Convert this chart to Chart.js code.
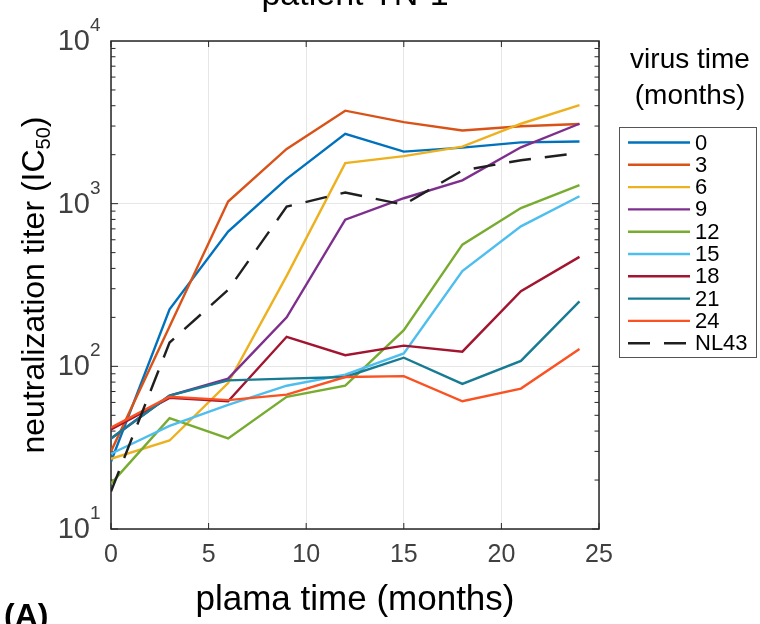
<!DOCTYPE html>
<html>
<head>
  <meta charset="utf-8">
  <title>patient TN-1</title>
  <script src="https://cdn.jsdelivr.net/npm/chart.js@4.4.0/dist/chart.umd.min.js"></script>
  <style>
    html, body {
      margin: 0;
      padding: 0;
      background: #fff;
    }
    #wrap {
      width: 760px;
      height: 624px;
      position: relative;
    }
  </style>
</head>
<body>
  <div id="wrap">
    <canvas id="titer" width="760" height="624"></canvas>
  </div>
  <script>
    // plasma sampling times (months)
    const plasmaMonths = [0, 3, 6, 9, 12, 15, 18, 21, 24];

    // IC50 titers, one row per virus time point
    const virus0  = [26, 224, 673, 1420, 2690, 2090, 2210, 2380, 2410];
    const virus3  = [30, 176, 1030, 2170, 3730, 3170, 2820, 2990, 3090];
    const virus6  = [27, 35, 79, 360, 1775, 1960, 2240, 3100, 4040];
    const virus9  = [36, 66, 84, 200, 797, 1080, 1390, 2220, 3100];
    const virus12 = [19, 48, 36, 65, 76, 167, 560, 940, 1300];
    const virus15 = [29, 43, 58, 76, 89, 120, 385, 725, 1110];
    const virus18 = [41, 64, 61, 152, 117, 134, 123, 290, 471];
    const virus21 = [36, 66, 82, 84, 86, 113, 78, 108, 251];
    const virus24 = [42, 65, 62, 67, 86, 87, 61, 73, 128];
    const nl43    = [17, 140, 295, 960, 1170, 986, 1600, 1850, 2050];

    const seriesNames  = ['0', '3', '6', '9', '12', '15', '18', '21', '24', 'NL43'];
    const seriesValues = [virus0, virus3, virus6, virus9, virus12, virus15, virus18, virus21, virus24, nl43];
    const seriesColors = ['#0072BD', '#D95319', '#EDB120', '#7E2F8E', '#77AC30',
                          '#4DBEEE', '#A2142F', '#177B93', '#FA5222', '#1f1f1f'];

    const xTicks = [0, 5, 10, 15, 20, 25];
    const yTicks = [10, 100, 1000, 10000];

    const FONT = '"Liberation Sans", Arial, Helvetica, sans-serif';
    const AXIS_COLOR = '#262626';
    const TICK_TEXT = '#404040';

    const datasets = seriesValues.map((vals, i) => ({
      label: seriesNames[i],
      data: vals.map((v, k) => ({ x: plasmaMonths[k], y: v })),
      borderColor: seriesColors[i],
      borderWidth: 2.4,
      borderDash: seriesNames[i] === 'NL43' ? [22, 14] : [],
      pointRadius: 0,
      fill: false,
      tension: 0,
      // later series sit on top
      order: seriesValues.length - i
    }));

    function seg(ctx, x1, y1, x2, y2) {
      ctx.beginPath();
      ctx.moveTo(x1, y1);
      ctx.lineTo(x2, y2);
      ctx.stroke();
    }

    // box, inward ticks and all the text around the axes
    const decorations = {
      id: 'decorations',
      beforeDatasetsDraw(chart) {
        const { ctx, chartArea: a, scales: { x, y } } = chart;
        ctx.save();
        ctx.strokeStyle = AXIS_COLOR;
        ctx.lineWidth = 1;
        xTicks.forEach(v => {
          const px = x.getPixelForValue(v);
          seg(ctx, px, a.bottom, px, a.bottom - 6);
          seg(ctx, px, a.top, px, a.top + 6);
        });
        for (let dec = 10; dec < 10000; dec *= 10) {
          for (let m = 1; m <= 9; m++) {
            const py = y.getPixelForValue(m * dec);
            const len = m === 1 ? 7 : 4.5;
            seg(ctx, a.left, py, a.left + len, py);
            seg(ctx, a.right, py, a.right - len, py);
          }
        }
        ctx.lineWidth = 1.5;
        ctx.strokeRect(a.left, a.top, a.right - a.left, a.bottom - a.top);
        ctx.restore();
      },
      afterDraw(chart) {
        const { ctx, chartArea: a, scales: { x, y } } = chart;
        const midX = (a.left + a.right) / 2;
        const midY = (a.top + a.bottom) / 2;
        ctx.save();

        // x tick labels
        ctx.fillStyle = TICK_TEXT;
        ctx.font = '25px ' + FONT;
        ctx.textAlign = 'center';
        ctx.textBaseline = 'alphabetic';
        xTicks.forEach(v => ctx.fillText(String(v), x.getPixelForValue(v), a.bottom + 33));

        // y tick labels as powers of ten
        yTicks.forEach(v => {
          const py = y.getPixelForValue(v);
          ctx.font = '29px ' + FONT;
          ctx.textAlign = 'right';
          ctx.textBaseline = 'middle';
          ctx.fillText('10', a.left - 21, py + 1);
          ctx.font = '19px ' + FONT;
          ctx.textAlign = 'left';
          ctx.textBaseline = 'alphabetic';
          ctx.fillText(String(Math.round(Math.log10(v))), a.left - 21, py - 10);
        });

        // titles
        ctx.fillStyle = '#000';
        ctx.textAlign = 'center';
        ctx.textBaseline = 'alphabetic';
        ctx.font = '34px ' + FONT;
        ctx.fillText('patient TN-1', midX, 5);
        ctx.font = '35px ' + FONT;
        ctx.fillText('plama time (months)', midX, 610);

        // y title with subscript
        ctx.save();
        ctx.translate(44, midY);
        ctx.rotate(-Math.PI / 2);
        const big = '32px ' + FONT, small = '20px ' + FONT;
        ctx.font = big;
        const part1 = 'neutralization titer (IC';
        const w1 = ctx.measureText(part1).width;
        const w3 = ctx.measureText(')').width;
        ctx.font = small;
        const w2 = ctx.measureText('50').width;
        let sx = -(w1 + w2 + w3) / 2;
        ctx.textAlign = 'left';
        ctx.font = big;
        ctx.fillText(part1, sx, 0);
        ctx.font = small;
        ctx.fillText('50', sx + w1, 6);
        ctx.font = big;
        ctx.fillText(')', sx + w1 + w2, 0);
        ctx.restore();

        // panel tag
        ctx.font = 'bold 32px ' + FONT;
        ctx.textAlign = 'left';
        ctx.fillText('(A)', 4, 626);

        // legend
        ctx.font = '28px ' + FONT;
        ctx.textAlign = 'center';
        ctx.fillText('virus time', 690, 68);
        ctx.fillText('(months)', 690, 104);

        ctx.fillStyle = '#fff';
        ctx.fillRect(619, 127, 138, 231);
        ctx.strokeStyle = '#555';
        ctx.lineWidth = 1;
        ctx.strokeRect(619.5, 127.5, 137, 230);

        ctx.font = '22px ' + FONT;
        ctx.textAlign = 'left';
        ctx.textBaseline = 'middle';
        chart.data.datasets.forEach((ds, i) => {
          const ly = 142.5 + i * 22.3;
          ctx.strokeStyle = ds.borderColor;
          ctx.lineWidth = 2.4;
          ctx.setLineDash(ds.borderDash);
          seg(ctx, 628, ly, 690, ly);
          ctx.setLineDash([]);
          ctx.fillStyle = '#000';
          ctx.fillText(ds.label, 695, ly + 1);
        });

        ctx.restore();
      }
    };

    new Chart(document.getElementById('titer'), {
      type: 'line',
      data: { datasets: datasets },
      options: {
        responsive: false,
        animation: false,
        devicePixelRatio: 1,
        layout: { padding: { left: 111, right: 161, top: 41, bottom: 95 } },
        scales: {
          x: {
            type: 'linear',
            min: 0,
            max: 25,
            ticks: { display: false, stepSize: 5 },
            grid: { color: '#e6e6e6', lineWidth: 1, drawTicks: false },
            border: { display: false }
          },
          y: {
            type: 'logarithmic',
            min: 10,
            max: 10000,
            afterBuildTicks: s => { s.ticks = yTicks.map(v => ({ value: v })); },
            ticks: { display: false },
            grid: { color: '#e6e6e6', lineWidth: 1, drawTicks: false },
            border: { display: false }
          }
        },
        plugins: {
          legend: { display: false },
          tooltip: { enabled: false }
        }
      },
      plugins: [decorations]
    });
  </script>
</body>
</html>
